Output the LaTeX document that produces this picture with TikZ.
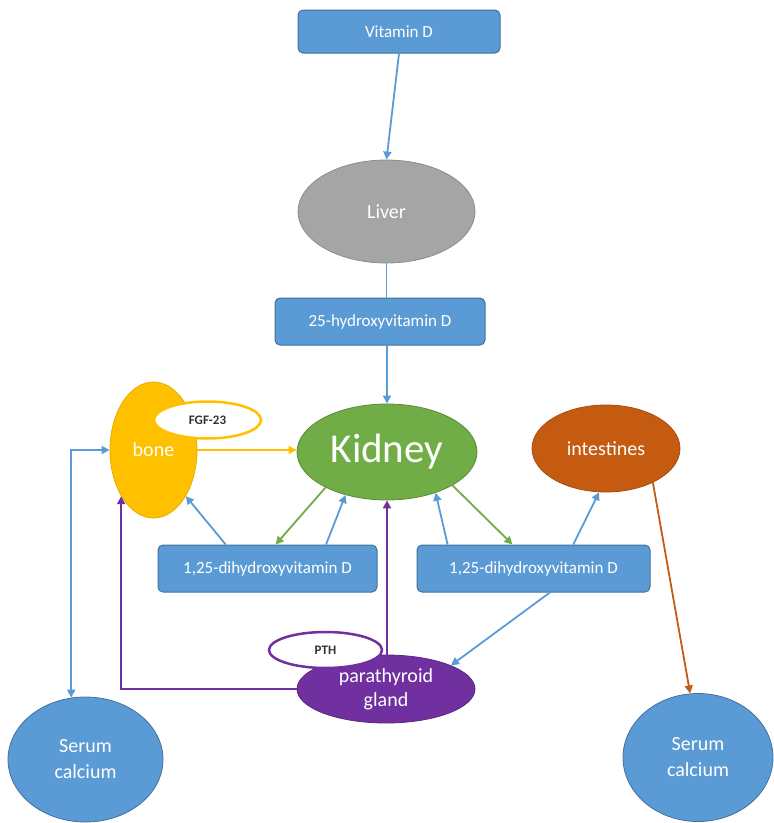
\documentclass[tikz,border=0pt]{standalone}
\usepackage{fontspec}
\setmainfont{Carlito}
\usetikzlibrary{shapes.geometric,arrows.meta,calc}
\definecolor{cblue}{HTML}{5B9BD5}
\definecolor{cblueD}{HTML}{41719C}
\definecolor{cgray}{HTML}{A5A5A5}
\definecolor{cgreen}{HTML}{70AD47}
\definecolor{cyellow}{HTML}{FFC000}
\definecolor{corange}{HTML}{C55A11}
\definecolor{cpurple}{HTML}{7030A0}
\tikzset{
  box/.style={rectangle, rounded corners=5pt, fill=cblue, draw=cblueD, line width=1pt,
    text=white, inner sep=0pt, font=\fontsize{17}{20}\selectfont},
  oval/.style={ellipse, inner sep=0pt, text=white, line width=0.8pt,
    font=\fontsize{20}{26}\selectfont, align=center},
  tagoval/.style={ellipse, inner sep=0pt, fill=white, line width=2.5pt,
    text=black!80, font=\bfseries\fontsize{13}{15}\selectfont},
  arr/.style={-{Triangle[length=8pt,width=8pt]}, line width=1.8pt},
  dblarr/.style={{Triangle[length=8pt,width=8pt]}-{Triangle[length=8pt,width=8pt]}, line width=1.8pt}
}
\begin{document}
\begin{tikzpicture}[x=1pt,y=-1pt]
\useasboundingbox (0,0) rectangle (774,823);

% nodes
\node[box, minimum width=202pt, minimum height=43pt] (vitd) at (399,31.5) {Vitamin D};
\node[oval, fill=cgray, draw=cgray!85!black, minimum width=177pt, minimum height=103pt] (liver) at (386.5,211.5) {Liver};
\node[box, minimum width=210pt, minimum height=47pt] (hd) at (380,321.5) {25-hydroxyvitamin D};
\node[oval, fill=cgreen, draw=cgreen!80!black, minimum width=180pt, minimum height=96pt,
  font=\fontsize{41}{48}\selectfont] (kidney) at (387,452) {Kidney};
\node[oval, fill=cyellow, draw=cyellow!90!black, minimum width=87pt, minimum height=136pt] (bone) at (153.5,450) {bone};
\node[tagoval, draw=cyellow, minimum width=107pt, minimum height=37pt] (fgf) at (207.5,420) {FGF-23};
\node[oval, fill=corange, draw=corange!85!black, minimum width=148pt, minimum height=87pt] (intest) at (606,448.5) {intestines};
\node[box, minimum width=219pt, minimum height=47pt] (lb) at (267.5,568.5) {1,25-dihydroxyvitamin D};
\node[box, minimum width=233pt, minimum height=47pt] (rb) at (533.5,568.5) {1,25-dihydroxyvitamin D};
\node[ellipse, inner sep=0pt, fill=cpurple, draw=cpurple!80!black, line width=0.8pt,
  minimum width=178pt, minimum height=68pt,
  label={[text=white, align=center, font=\fontsize{20}{24}\selectfont]center:parathyroid\\gland}] (pg) at (386,689) {};
\node[tagoval, draw=cpurple, minimum width=113pt, minimum height=36pt] (pth) at (325.5,650) {PTH};
\node[oval, fill=cblue, draw=cblueD, minimum width=155pt, minimum height=125pt] (lsc) at (85.5,759.5) {Serum\\calcium};
\node[oval, fill=cblue, draw=cblueD, minimum width=150pt, minimum height=128pt] (rsc) at (698,757.5) {Serum\\calcium};

% connectors
\draw[arr, cblue] (vitd.south) -- (liver.north);
\draw[line width=1.8pt, cblue] (liver.south) -- (liver.south |- hd.north);
\draw[arr, cblue] (hd.south -| kidney.north) -- (kidney.north);
\draw[arr, cyellow] (bone.east) -- (bone.east -| kidney.west);

\draw[arr, cgreen] (kidney.210) -- ($(lb.north west)!0.537!(lb.north east)$);
\draw[arr, cblue] ($(lb.north west)!0.766!(lb.north east)$) -- (kidney.226);
\draw[arr, cblue] ($(lb.north west)!0.31!(lb.north east)$) -- (bone.-55);

\draw[arr, cgreen] (kidney.-27) -- ($(rb.north west)!0.41!(rb.north east)$);
\draw[arr, cblue] ($(rb.north west)!0.133!(rb.north east)$) -- (kidney.-40);
\draw[arr, cblue] ($(rb.north west)!0.67!(rb.north east)$) -- (intest.-99);
\draw[arr, cblue] ($(rb.south west)!0.57!(rb.south east)$) -- (pg.20);

\draw[arr, corange] (intest.-36) -- (rsc.97);

\draw[arr, cpurple, line width=2pt] (pg.north -| kidney.south) -- (kidney.south);
\draw[arr, cpurple, line width=2pt] (pg.west) -| (bone.-125);

\draw[dblarr, cblue] (lsc.103) |- (bone.west);
\end{tikzpicture}
\end{document}
